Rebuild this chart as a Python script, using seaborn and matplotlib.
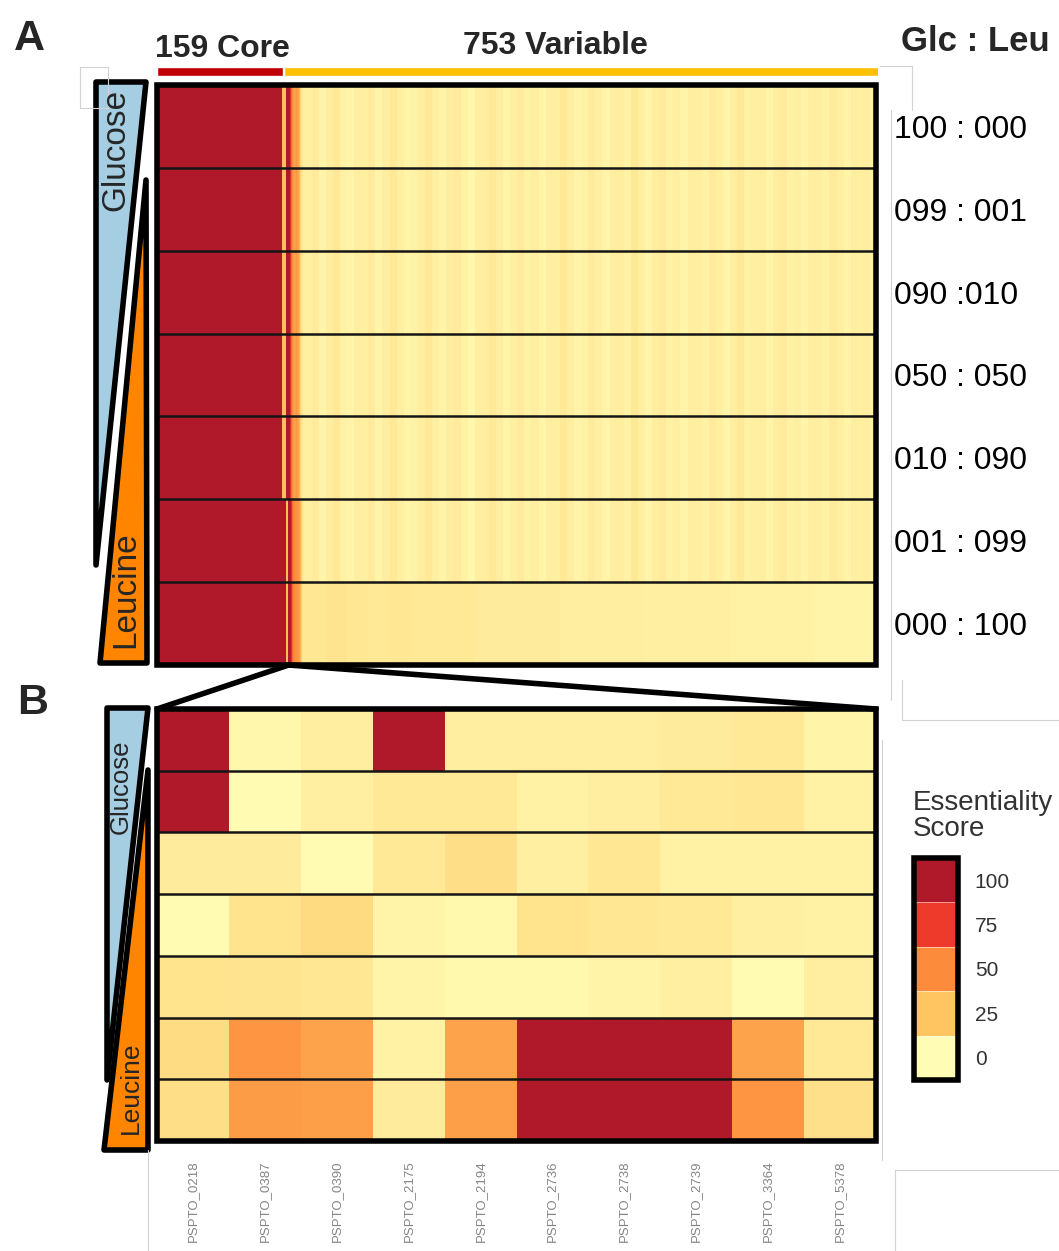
import numpy as np
import pandas as pd
import seaborn as sns
import matplotlib.pyplot as plt
from matplotlib.colors import LinearSegmentedColormap
from matplotlib.patches import Polygon, Rectangle, ConnectionPatch

sns.set_theme(style="white")
plt.rcParams['font.family'] = ['Liberation Sans', 'DejaVu Sans']

# ---------------- data ----------------
conditions = ["100 : 000", "099 : 001", "090 :010", "050 : 050",
              "010 : 090", "001 : 099", "000 : 100"]
core_count = 159
variable_count = 753

# first variable genes right after the core block
transition_glc = [28, 28, 28, 28, 100, 100, 100, 100, 100, 100, 80, 60,
                  50, 45, 42, 40, 42, 45, 45, 42, 38, 32, 25, 18, 12, 9, 7, 6]
transition_leu = [100, 100, 100, 100, 28, 28, 28, 100, 100, 100, 100, 80,
                  62, 56, 52, 50, 49, 48, 47, 46, 45, 42, 38, 30, 20, 12, 8, 6]

# remaining variable genes, banded scores (glucose-containing media)
variable_stripes = [6, 8, 4, 7, 9, 5, 4, 7, 6, 8, 4, 7, 9, 6, 4, 5, 7, 9,
                    6, 4, 7, 8, 5, 3, 6, 7, 9, 7, 4, 6, 8, 5, 7, 4, 7, 6,
                    9, 7, 4, 5, 8, 6, 4, 7, 7, 5, 9, 6, 4, 7, 8, 5, 6, 4,
                    7, 7, 5, 8, 6, 4, 7, 9, 5, 6, 7, 4, 7, 8, 5, 6, 4, 7,
                    7, 5, 8, 6, 4, 7, 6, 7, 5]
# remaining variable genes on leucine only
variable_leu100 = [10, 11, 10, 9, 10, 9, 9, 9, 8, 8, 8, 8, 7, 7, 7, 7, 6,
                   6, 6, 6, 5, 5, 5, 5, 4, 4, 4]

genes_b = ["PSPTO_0218", "PSPTO_0387", "PSPTO_0390", "PSPTO_2175",
           "PSPTO_2194", "PSPTO_2736", "PSPTO_2738", "PSPTO_2739",
           "PSPTO_3364", "PSPTO_5378"]
scores_b = [
    [100, 3, 7, 100, 7, 7, 7, 8, 9, 4],
    [100, 1, 6, 9, 9, 5, 7, 9, 10, 5],
    [8, 8, 1, 9, 14, 6, 10, 5, 5, 5],
    [1, 12, 16, 4, 2, 12, 10, 9, 6, 5],
    [12, 11, 10, 4, 2, 2, 4, 6, 1, 7],
    [15, 46, 40, 5, 40, 100, 100, 100, 40, 9],
    [14, 43, 42, 8, 42, 100, 100, 100, 46, 13],
]

legend_levels = [100, 75, 50, 25, 0]
score_colors = ["#FFFDB5", "#FEC561", "#FD8C3C", "#EF3A2A", "#B0192A"]

cmap = LinearSegmentedColormap.from_list("essentiality", score_colors)

W, H = 1059, 1251


def fx(x):
    return x / W


def fy(y):
    return 1 - y / H


def expand(bands, n):
    chunks = np.array_split(np.arange(n), len(bands))
    return np.concatenate([np.full(len(c), v, float) for c, v in zip(chunks, bands)])


rest = variable_count - len(transition_glc)
stripes = expand(variable_stripes, rest)
leu_tail = expand(variable_leu100, rest)
rows = []
for i in range(len(conditions)):
    trans = transition_leu if i >= 5 else transition_glc
    tail = leu_tail if i == 6 else stripes
    rows.append(np.concatenate([np.full(core_count, 100.0), trans, tail]))
mat_a = pd.DataFrame(np.vstack(rows), index=conditions)
mat_b = pd.DataFrame(scores_b, index=conditions, columns=genes_b)

fig = plt.figure(figsize=(W / 100, H / 100), dpi=100)

# ---------------- panel A ----------------
axA = fig.add_axes([fx(157), fy(665), (876 - 157) / W, (665 - 85) / H])
sns.heatmap(mat_a, cmap=cmap, vmin=0, vmax=100, cbar=False, ax=axA,
            xticklabels=False, yticklabels=conditions, rasterized=True)
axA.yaxis.set_ticks_position('right')
axA.tick_params(axis='y', length=0, pad=13, labelsize=23, labelcolor='black')
plt.setp(axA.get_yticklabels(), rotation=0, ha='left')
axA.set_ylabel('')
for k in range(1, len(conditions)):
    axA.axhline(k, color='#151515', lw=1.8)
axA.add_patch(Rectangle((0, 0), 1, 1, transform=axA.transAxes, fill=False,
                        lw=4, ec='black', clip_on=False, zorder=10))

# core / variable bar
axBar = fig.add_axes([fx(157), fy(76), (878 - 157) / W, 9 / H])
axBar.barh(0, core_count, left=0, height=1, color='#C00000')
axBar.barh(0, variable_count, left=core_count + 2, height=1, color='#FFC000')
axBar.set_xlim(0, core_count + variable_count)
axBar.set_ylim(-0.5, 0.5)
axBar.axis('off')

fig.text(fx(222), fy(57), f"{core_count} Core", ha='center', va='baseline',
         fontsize=23, fontweight='bold')
fig.text(fx(555), fy(54), f"{variable_count} Variable", ha='center',
         va='baseline', fontsize=23, fontweight='bold')
fig.text(fx(975), fy(51), "Glc : Leu", ha='center', va='baseline',
         fontsize=25, fontweight='bold')
fig.text(fx(14), fy(50), "A", fontsize=31, fontweight='bold', va='baseline')
fig.text(fx(17), fy(714), "B", fontsize=31, fontweight='bold', va='baseline')

# ---------------- panel B ----------------
axB = fig.add_axes([fx(157), fy(1141), (876 - 157) / W, (1141 - 709) / H])
sns.heatmap(mat_b, cmap=cmap, vmin=0, vmax=100, cbar=False, ax=axB,
            xticklabels=genes_b, yticklabels=False)
axB.tick_params(axis='x', length=0, pad=14, labelsize=9.5, labelcolor='#858585')
plt.setp(axB.get_xticklabels(), rotation=90)
axB.set_xlabel('')
for k in range(1, len(conditions)):
    axB.axhline(k, color='#151515', lw=1.8)
axB.add_patch(Rectangle((0, 0), 1, 1, transform=axB.transAxes, fill=False,
                        lw=4, ec='black', clip_on=False, zorder=10))

# ---------------- legend ----------------
axL = fig.add_axes([fx(914), fy(1080), 44 / W, (1080 - 858) / H])
leg = pd.DataFrame({'score': legend_levels}, index=legend_levels)
sns.heatmap(leg, cmap=cmap, vmin=0, vmax=100, cbar=False, ax=axL,
            xticklabels=False, yticklabels=[str(v) for v in legend_levels],
            linewidths=0.6, linecolor=(1, 1, 1, 0.5))
axL.yaxis.set_ticks_position('right')
axL.tick_params(axis='y', length=0, pad=12, labelsize=15, labelcolor='#333333')
plt.setp(axL.get_yticklabels(), rotation=0, ha='left')
axL.set_ylabel('')
axL.add_patch(Rectangle((0, 0), 1, 1, transform=axL.transAxes, fill=False,
                        lw=4, ec='black', clip_on=False, zorder=10))
fig.text(fx(913), fy(790), "Essentiality\nScore", ha='left', va='top',
         fontsize=20, color='#333333', linespacing=1.0)

# ---------------- overlay: media gradients and zoom lines ----------------
axO = fig.add_axes([0, 0, 1, 1], zorder=5)
axO.set_xlim(0, W)
axO.set_ylim(H, 0)
axO.axis('off')
axO.patch.set_alpha(0)

glc_color = '#A6CEE3'
leu_color = '#FF8500'
axO.add_patch(Polygon([(96, 82), (146, 82), (96, 565)], closed=True,
                      fc=glc_color, ec='black', lw=4, joinstyle='round'))
axO.add_patch(Polygon([(146, 180), (147, 663), (100, 663)], closed=True,
                      fc=leu_color, ec='black', lw=4, joinstyle='round'))
axO.text(116, 150, "Glucose", rotation=90, ha='center', va='center', fontsize=24)
axO.text(126, 590, "Leucine", rotation=90, ha='center', va='center', fontsize=24)

axO.add_patch(Polygon([(107, 708), (148, 708), (107, 1080)], closed=True,
                      fc=glc_color, ec='black', lw=4, joinstyle='round'))
axO.add_patch(Polygon([(148, 770), (148, 1150), (104, 1150)], closed=True,
                      fc=leu_color, ec='black', lw=4, joinstyle='round'))
axO.text(121, 787, "Glucose", rotation=90, ha='center', va='center', fontsize=18.5)
axO.text(131, 1088, "Leucine", rotation=90, ha='center', va='center', fontsize=19)

# faint panel frames
frame = dict(color='#d2d2d2', lw=0.8)
axO.plot([80, 108, 108, 80, 80], [67, 67, 108, 108, 67], **frame)
axO.plot([880, 912, 912], [66, 66, 110], **frame)
axO.plot([891, 891], [110, 700], **frame)
axO.plot([902, 902, W], [680, 720, 720], **frame)
axO.plot([882, 882], [740, 1160], **frame)
axO.plot([148, 148], [1150, H], **frame)
axO.plot([895, 895], [H, 1170], **frame)
axO.plot([895, W], [1170, 1170], **frame)

zoom_start = core_count + 8
for xyB in [(0, 1), (1, 1)]:
    con = ConnectionPatch(xyA=(zoom_start, len(conditions)), coordsA=axA.transData,
                          xyB=xyB, coordsB=axB.transAxes, color='black', lw=4)
    fig.add_artist(con)

fig.savefig("out.png", dpi=100)
